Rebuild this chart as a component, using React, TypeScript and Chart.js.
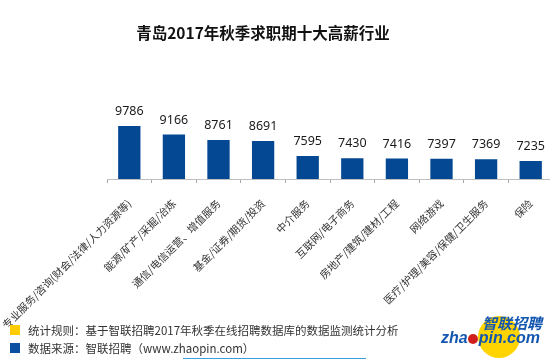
import React, { useEffect, useRef } from "react";
import { Chart, registerables } from "chart.js";

Chart.register(...registerables);

const titleText = "青岛2017年秋季求职期十大高薪行业";
const categories = [
  "专业服务/咨询(财会/法律/人力资源等)",
  "能源/矿产/采掘/冶炼",
  "通信/电信运营、增值服务",
  "基金/证券/期货/投资",
  "中介服务",
  "互联网/电子商务",
  "房地产/建筑/建材/工程",
  "网络游戏",
  "医疗/护理/美容/保健/卫生服务",
  "保险",
];
const salaries = [9786, 9166, 8761, 8691, 7595, 7430, 7416, 7397, 7369, 7235];
const axisMin = 5923;
const axisMax = 14452;
const noteRule = "统计规则：基于智联招聘2017年秋季在线招聘数据库的数据监测统计分析";
const noteSource = "数据来源：智联招聘（www.zhaopin.com）";

const valueLabels = {
  id: "valueLabels",
  afterDatasetsDraw(chart: any) {
    const ctx = chart.ctx;
    const meta = chart.getDatasetMeta(0);
    ctx.save();
    ctx.font = '12.5px "Noto Sans", sans-serif';
    ctx.fillStyle = "#1a1a1a";
    ctx.textAlign = "center";
    ctx.textBaseline = "alphabetic";
    meta.data.forEach((bar: any, i: number) => {
      ctx.fillText(String(chart.data.datasets[0].data[i]), bar.x, bar.y - 11);
    });
    ctx.restore();
  },
};

export default function App() {
  const ref = useRef<HTMLCanvasElement | null>(null);
  useEffect(() => {
    if (!ref.current) return;
    const chart = new Chart(ref.current, {
      type: "bar",
      data: {
        labels: categories,
        datasets: [
          {
            data: salaries,
            backgroundColor: "#044792",
            borderWidth: 0,
            categoryPercentage: 1,
            barPercentage: 0.5,
          },
        ],
      },
      options: {
        responsive: false,
        animation: false,
        layout: { padding: { left: 107, right: 3, top: 62, bottom: 0 } },
        plugins: {
          legend: { display: false },
          title: { display: false },
          tooltip: { enabled: false },
        },
        scales: {
          y: { display: false, min: axisMin, max: axisMax },
          x: {
            offset: true,
            border: { display: true, color: "#bfbfbf", width: 1 },
            grid: {
              offset: true,
              drawOnChartArea: false,
              drawTicks: true,
              tickLength: 4,
              color: "#a6a6a6",
            },
            ticks: {
              autoSkip: false,
              minRotation: 45,
              maxRotation: 45,
              padding: 14,
              color: "#333333",
              font: { size: 10.5, family: '"Noto Sans CJK SC", sans-serif' },
            },
            afterFit: (scale: any) => {
              scale.paddingLeft = 0;
              scale.paddingRight = 0;
              scale.height = 181;
            },
          },
        },
      },
      plugins: [valueLabels],
    });
    return () => chart.destroy();
  }, []);

  const textFont = '"Noto Sans CJK SC", sans-serif';
  return (
    <div
      style={{
        position: "absolute",
        left: 0,
        top: 0,
        width: 550,
        height: 360,
        overflow: "hidden",
        background: "#ffffff",
        fontFamily: textFont,
      }}
    >
      <canvas ref={ref} width={556} height={360} style={{ position: "absolute", left: 0, top: 0 }} />
      <div
        style={{
          position: "absolute",
          left: 0,
          top: 21,
          width: 526,
          textAlign: "center",
          fontSize: 15.5,
          fontWeight: 700,
          color: "#111",
          lineHeight: "22px",
        }}
      >
        {titleText}
      </div>
      <div style={{ position: "absolute", left: 10, top: 325, width: 10, height: 10, background: "#ffcc00" }} />
      <div style={{ position: "absolute", left: 10, top: 343, width: 10, height: 10, background: "#0a4fa0" }} />
      <div style={{ position: "absolute", left: 28, top: 322, fontSize: 11.5, lineHeight: "16px", color: "#333", whiteSpace: "nowrap" }}>
        {noteRule}
      </div>
      <div style={{ position: "absolute", left: 28, top: 340, fontSize: 11.5, lineHeight: "16px", color: "#333", whiteSpace: "nowrap" }}>
        {noteSource}
      </div>
      <div style={{ position: "absolute", left: 183, top: 358, width: 183, height: 1, background: "#3aa0e0" }} />
      <div
        style={{
          position: "absolute",
          left: 478,
          top: 316,
          width: 42,
          height: 42,
          borderRadius: "50%",
          background: "#ffd400",
        }}
      />
      <div
        style={{
          position: "absolute",
          left: 482,
          top: 313,
          fontSize: 15,
          fontWeight: 700,
          fontStyle: "italic",
          color: "#1457b0",
          lineHeight: "20px",
          whiteSpace: "nowrap",
        }}
      >
        智联招聘
      </div>
      <div
        style={{
          position: "absolute",
          left: 441,
          top: 329,
          fontSize: 16,
          fontWeight: 700,
          fontStyle: "italic",
          color: "#1457b0",
          lineHeight: "18px",
          whiteSpace: "nowrap",
          fontFamily: '"Liberation Sans", sans-serif',
        }}
      >
        zha
        <span
          style={{
            display: "inline-block",
            width: 10,
            height: 10,
            borderRadius: "50%",
            background: "#d0201c",
            margin: "0 0.5px",
            verticalAlign: "-1px",
          }}
        />
        pin.com
      </div>
    </div>
  );
}
